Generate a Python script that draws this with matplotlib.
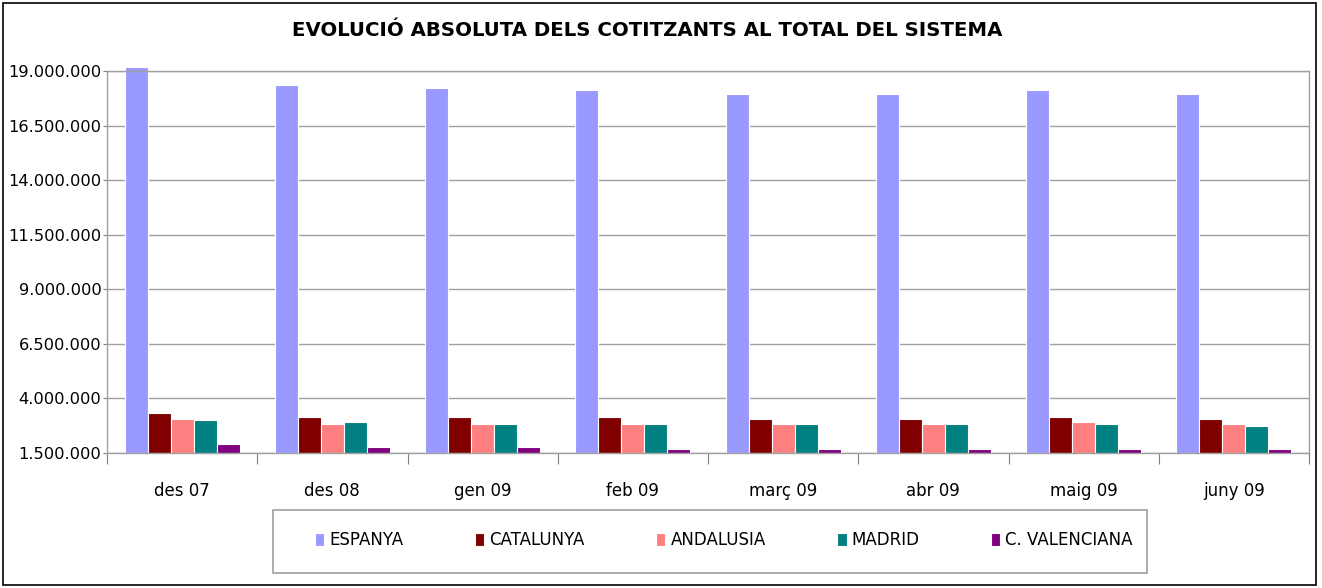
import matplotlib
matplotlib.use("Agg")
import matplotlib.pyplot as plt
from matplotlib.ticker import FuncFormatter, FixedLocator
from matplotlib.patches import Rectangle
import numpy as np

plt.rcParams['font.family'] = ['DejaVu Sans']

categories = ["des 07", "des 08", "gen 09", "feb 09", "març 09", "abr 09", "maig 09", "juny 09"]
espanya = [19190000, 18360000, 18200000, 18130000, 17940000, 17940000, 18130000, 17940000]
catalunya = [3330000, 3170000, 3170000, 3170000, 3070000, 3070000, 3170000, 3070000]
andalusia = [3070000, 2840000, 2840000, 2840000, 2840000, 2840000, 2920000, 2840000]
madrid = [2990000, 2920000, 2840000, 2840000, 2840000, 2840000, 2840000, 2750000]
valenciana = [1930000, 1770000, 1770000, 1680000, 1680000, 1680000, 1680000, 1680000]
series_names = ["ESPANYA", "CATALUNYA", "ANDALUSIA", "MADRID", "C. VALENCIANA"]
series_colors = ["#9999FF", "#800000", "#FF8080", "#008080", "#800080"]
y_ticks = [1500000, 4000000, 6500000, 9000000, 11500000, 14000000, 16500000, 19000000]

W, H = 1322, 588
fig = plt.figure(figsize=(W / 100, H / 100), dpi=100)
ax = fig.add_axes([107 / W, 1 - 453 / H, (1309 - 107) / W, (453 - 71) / H])

x = np.arange(len(categories))
w = 0.153
base = y_ticks[0]
all_series = [espanya, catalunya, andalusia, madrid, valenciana]
containers = []
for i, (vals, name, col) in enumerate(zip(all_series, series_names, series_colors)):
    c = ax.bar(x + (i - 2) * w, np.array(vals) - base, bottom=base, width=w, color=col,
               edgecolor="white", linewidth=0.8, label=name, zorder=2, clip_on=False)
    containers.append(c)

ax.set_xlim(-0.5, len(categories) - 0.5)
ax.set_ylim(1500000, 19000000)
ax.yaxis.set_major_locator(FixedLocator(y_ticks))
ax.yaxis.set_major_formatter(FuncFormatter(lambda v, p: f"{int(round(v)):,}".replace(",", ".")))
ax.grid(axis="y", color="#A0A0A0", linewidth=1.0)
ax.set_axisbelow(True)

ax.set_xticks(np.arange(len(categories) + 1) - 0.5, minor=False)
ax.set_xticklabels([])
ax.set_xticks(x, minor=True)
ax.set_xticklabels(categories, minor=True)
ax.tick_params(axis="x", which="major", length=8, color="#808080", direction="out")
ax.tick_params(axis="x", which="minor", length=0, pad=21, labelsize=12)
ax.tick_params(axis="y", length=3, color="#808080", pad=1, labelsize=11.7)

for s in ["left", "bottom", "right", "top"]:
    ax.spines[s].set_color("#A0A0A0")
    ax.spines[s].set_linewidth(1.0)
    ax.spines[s].set_zorder(2.5)

fig.text(647 / W, 1 - 30 / H, "EVOLUCIÓ ABSOLUTA DELS COTITZANTS AL TOTAL DEL SISTEMA",
         ha="center", va="center", fontsize=14.2, fontweight="bold")

leg = fig.legend(handles=containers, labels=series_names, ncol=5,
                 loc="center",
                 bbox_to_anchor=(724 / W, 1 - 540 / H),
                 fontsize=12, handlelength=0.55, handleheight=0.85, handletextpad=0.3,
                 columnspacing=4.3, frameon=False, borderpad=0)

fig.patches.append(Rectangle((273 / W, 1 - 573 / H), (1147 - 273) / W, (573 - 510) / H,
                             transform=fig.transFigure, fill=False,
                             edgecolor="#A0A0A0", linewidth=1.2))
fig.patches.append(Rectangle((3 / W, 1 - 585 / H), (1316 - 3) / W, (585 - 3) / H,
                             transform=fig.transFigure, fill=False,
                             edgecolor="black", linewidth=1.2))

fig.savefig("out.png", dpi=100)
